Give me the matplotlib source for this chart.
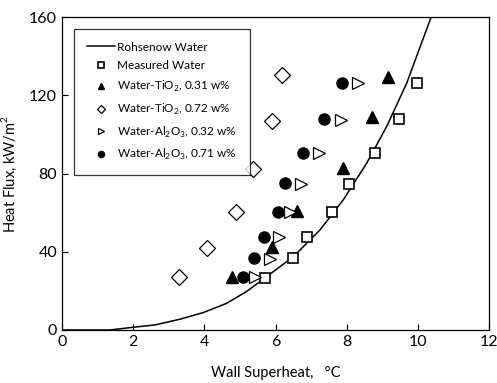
import matplotlib
matplotlib.use("Agg")
from matplotlib import pyplot as plt

plt.rcParams['font.family'] = ['Lato', 'DejaVu Sans']
plt.rcParams['mathtext.fontset'] = 'custom'
plt.rcParams['mathtext.rm'] = 'Lato'

# Rohsenow correlation
rohsenow_x = [0.0, 1.34, 2.0, 2.62, 3.31, 3.97, 4.62, 5.18, 5.75, 6.5, 7.25, 7.9, 8.56, 9.12, 9.68, 10.37]
rohsenow_y = [0.0, 0.0, 1.4, 2.6, 5.5, 8.9, 13.6, 19.6, 27.3, 37.5, 51.2, 66.5, 85.3, 104.0, 126.0, 160.0]

# measured water
water_x = [5.70, 6.48, 6.89, 7.58, 8.06, 8.79, 9.47, 9.98]
water_y = [26.4, 36.7, 47.8, 60.6, 74.7, 90.4, 107.8, 126.6]

# Water-TiO2 0.31 w%
tio2_031_x = [4.78, 5.91, 6.59, 7.90, 8.70, 9.17]
tio2_031_y = [27.3, 42.3, 61.1, 82.7, 109.2, 129.6]

# Water-TiO2 0.72 w%
tio2_072_x = [3.28, 4.07, 4.89, 5.37, 5.90, 6.17]
tio2_072_y = [27.0, 41.8, 60.6, 82.2, 107.1, 130.3]

# Water-Al2O3 0.32 w%
al2o3_032_x = [5.42, 5.84, 6.10, 6.40, 6.73, 7.22, 7.84, 8.33]
al2o3_032_y = [27.0, 36.2, 47.8, 60.6, 74.5, 90.4, 107.5, 126.6]

# Water-Al2O3 0.71 w%
al2o3_071_x = [5.09, 5.39, 5.68, 6.06, 6.28, 6.78, 7.37, 7.88]
al2o3_071_y = [27.0, 36.7, 47.8, 60.6, 75.1, 90.4, 107.8, 126.6]

fig = plt.figure(figsize=(4.97, 3.83), dpi=100)
ax = fig.add_axes([0.1247, 0.1384, 0.8593, 0.8164])

ax.plot(rohsenow_x, rohsenow_y, color='black', lw=1.1, label='Rohsenow Water')
ax.plot(water_x, water_y, ls='none', marker='s', ms=7, mfc='white', mec='black', mew=1.2,
        label='Measured Water')
ax.plot(tio2_031_x, tio2_031_y, ls='none', marker='^', ms=9, color='black',
        label='Water-TiO$_2$, 0.31 w%')
ax.plot(tio2_072_x, tio2_072_y, ls='none', marker='D', ms=8, mfc='white', mec='black', mew=0.9,
        label='Water-TiO$_2$, 0.72 w%')
ax.plot(al2o3_032_x, al2o3_032_y, ls='none', marker='>', ms=9, mfc='white', mec='black', mew=0.9,
        label='Water-Al$_2$O$_3$, 0.32 w%')
ax.plot(al2o3_071_x, al2o3_071_y, ls='none', marker='o', ms=8, color='black',
        label='Water-Al$_2$O$_3$, 0.71 w%')

ax.set_xlim(0, 12)
ax.set_ylim(0, 160)
ax.set_xticks(range(0, 13, 2))
ax.set_yticks(range(0, 161, 40))
ax.tick_params(direction='in', labelsize=11.5, length=4, width=0.8)
for s in ax.spines.values():
    s.set_linewidth(0.9)

ax.set_xlabel('Wall Superheat,   °C', fontsize=10.5, labelpad=12)
ax.set_ylabel('Heat Flux, kW/m$^2$', fontsize=10.5, labelpad=7)

leg = ax.legend(loc='upper left', bbox_to_anchor=(0.0137, 0.983), fontsize=8.5, markerscale=0.55,
                frameon=True, fancybox=False, edgecolor='black', handlelength=2.4,
                labelspacing=0.65, borderpad=1.1, handletextpad=0.2)
leg.get_frame().set_linewidth(0.9)

fig.savefig('out.png', dpi=100)
